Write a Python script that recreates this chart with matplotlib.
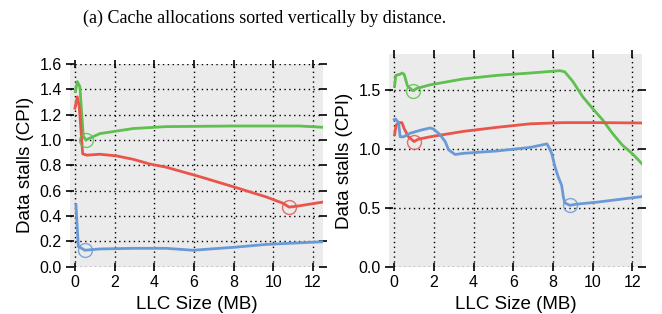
import matplotlib
matplotlib.use("Agg")
import matplotlib.pyplot as plt

plt.rcParams['font.family'] = ['Liberation Sans', 'DejaVu Sans']

# left panel
l_green_x = [0.02, 0.12, 0.25, 0.42, 0.55, 1.26, 2.94, 4.6, 8.0, 11.3, 12.5]
l_green_y = [1.38, 1.46, 1.42, 1.03, 1.00, 1.05, 1.09, 1.105, 1.11, 1.11, 1.10]
l_red_x = [0.0, 0.12, 0.22, 0.39, 0.6, 1.26, 2.1, 2.94, 3.78, 4.6, 6.3, 8.0, 9.65, 10.5, 10.8, 11.3, 12.5]
l_red_y = [1.25, 1.34, 1.26, 0.89, 0.88, 0.887, 0.874, 0.847, 0.81, 0.785, 0.71, 0.63, 0.55, 0.50, 0.47, 0.48, 0.51]
l_blue_x = [0.05, 0.17, 0.5, 1.26, 2.94, 4.6, 5.96, 8.0, 9.65, 12.5]
l_blue_y = [0.49, 0.16, 0.13, 0.14, 0.145, 0.145, 0.13, 0.153, 0.176, 0.197]
l_circles = {'green': (0.55, 1.00), 'red': (10.8, 0.47), 'blue': (0.5, 0.13)}

# right panel
r_green_x = [0.02, 0.08, 0.3, 0.39, 0.5, 0.67, 0.94, 1.14, 1.81, 3.49, 5.17, 6.85, 8.36, 8.6,
             9.0, 9.5, 10.0, 10.5, 11.0, 11.5, 12.05, 12.5]
r_green_y = [1.53, 1.62, 1.63, 1.64, 1.63, 1.53, 1.49, 1.51, 1.54, 1.59, 1.62, 1.64, 1.66, 1.65,
             1.57, 1.44, 1.34, 1.245, 1.13, 1.03, 0.95, 0.87]
r_red_x = [0.02, 0.1, 0.22, 0.39, 0.5, 0.72, 1.0, 1.22, 1.81, 3.49, 5.17, 6.85, 8.5, 10.2, 12.5]
r_red_y = [1.12, 1.20, 1.22, 1.22, 1.17, 1.10, 1.06, 1.08, 1.10, 1.146, 1.18, 1.21, 1.22, 1.22, 1.217]
r_blue_x = [0.0, 0.07, 0.22, 0.3, 0.47, 0.8, 1.31, 1.81, 1.98, 2.3, 2.57, 2.74, 3.07, 3.49, 5.17,
            6.85, 7.7, 7.77, 7.94, 8.1, 8.27, 8.44, 8.53, 8.6, 8.86, 9.2, 10.2, 12.5]
r_blue_y = [1.245, 1.25, 1.22, 1.10, 1.10, 1.13, 1.155, 1.175, 1.166, 1.12, 1.06, 0.99, 0.95, 0.96, 0.98,
            1.01, 1.04, 1.02, 0.96, 0.85, 0.76, 0.69, 0.59, 0.54, 0.52, 0.53, 0.546, 0.594]
r_circles = {'green': (0.94, 1.49), 'red': (1.0, 1.06), 'blue': (8.86, 0.52)}

colors = {'green': '#5fbf4f', 'red': '#e9544b', 'blue': '#6a9ad6'}


def style_ax(ax, ylim, yticks):
    ax.set_facecolor('#ebebeb')
    ax.set_xlim(-0.25, 12.5)
    ax.set_ylim(*ylim)
    ax.set_xticks([0, 2, 4, 6, 8, 10, 12])
    ax.set_yticks(yticks)
    ax.grid(True, color='black', linestyle=(0, (1, 2.5)), linewidth=1.0)
    ax.set_axisbelow(True)
    for s in ax.spines.values():
        s.set_visible(False)
    ax.tick_params(direction='inout', length=6, width=1.2, top=True, right=True,
                   labelsize=11.5, pad=3)
    ax.set_xlabel('LLC Size (MB)', fontsize=13.5, labelpad=4)
    ax.set_ylabel('Data stalls (CPI)', fontsize=13.5, labelpad=4)


def draw(ax, series, circles):
    for name, (xs, ys) in series.items():
        ax.plot(xs, ys, color=colors[name], linewidth=2.0, solid_joinstyle='round', zorder=3)
        cx, cy = circles[name]
        ax.plot([cx], [cy], 'o', markersize=10, markerfacecolor='none',
                markeredgecolor=colors[name], markeredgewidth=1.0, alpha=0.85, zorder=4)


fig = plt.figure(figsize=(6.62, 3.14), dpi=100)
ax1 = fig.add_axes([0.1057, 0.1506, 0.382, 0.646])
ax2 = fig.add_axes([0.588, 0.1506, 0.382, 0.677])

style_ax(ax1, (0, 1.6), [0.0, 0.2, 0.4, 0.6, 0.8, 1.0, 1.2, 1.4, 1.6])
ax1.yaxis.set_major_formatter(matplotlib.ticker.FormatStrFormatter('%.1f'))
draw(ax1, {'green': (l_green_x, l_green_y), 'red': (l_red_x, l_red_y),
           'blue': (l_blue_x, l_blue_y)}, l_circles)

style_ax(ax2, (0, 1.8), [0.0, 0.5, 1.0, 1.5])
ax2.yaxis.set_major_formatter(matplotlib.ticker.FormatStrFormatter('%.1f'))
draw(ax2, {'green': (r_green_x, r_green_y), 'red': (r_red_x, r_red_y),
           'blue': (r_blue_x, r_blue_y)}, r_circles)

fig.text(0.40, 0.943, '(a) Cache allocations sorted vertically by distance.',
         ha='center', va='center', fontsize=13, family='Liberation Serif')

fig.savefig('out.png', dpi=100)
